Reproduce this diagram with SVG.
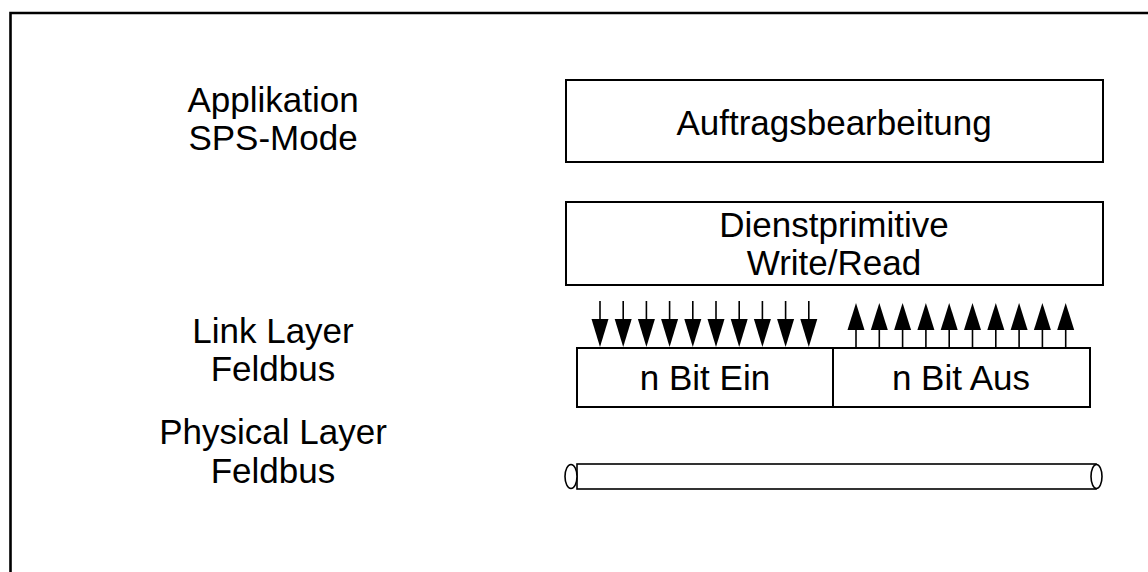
<svg xmlns="http://www.w3.org/2000/svg" width="1148" height="572" viewBox="0 0 1148 572">
<style>
text{font-family:"Liberation Sans",Arial,sans-serif;font-size:35px;fill:#000;text-anchor:middle}
.box{fill:#fff;stroke:#000;stroke-width:2}
.sh{stroke:#000;stroke-width:1.6;fill:none}
.hd{fill:#000}
</style>
<defs>
<g id="down"><line class="sh" x1="0" y1="301" x2="0" y2="320"/><polygon class="hd" points="-8.5,319 8.5,319 0,347"/></g>
<g id="up"><line class="sh" x1="0" y1="328" x2="0" y2="348"/><polygon class="hd" points="-8.5,330 8.5,330 0,303"/></g>
</defs>
<rect width="1148" height="572" fill="#fff"/>
<g id="frame"><path d="M10.5,572 V13 H1148" fill="none" stroke="#000" stroke-width="2.6"/></g>
<g id="labels">
<text x="273" y="112">Applikation</text>
<text x="273" y="150">SPS-Mode</text>
<text x="273" y="343">Link Layer</text>
<text x="273" y="381">Feldbus</text>
<text x="273" y="444">Physical Layer</text>
<text x="273" y="483">Feldbus</text>
</g>
<g id="auftrag"><rect class="box" x="566" y="80" width="537" height="82"/><text x="834" y="135">Auftragsbearbeitung</text></g>
<g id="dienst"><rect class="box" x="566" y="202" width="537" height="83"/><text x="834" y="237">Dienstprimitive</text><text x="834" y="275">Write/Read</text></g>
<g id="bitein"><rect class="box" x="577" y="348" width="256" height="59"/><text x="705" y="390">n Bit Ein</text></g>
<g id="bitaus"><rect class="box" x="833" y="348" width="257" height="59"/><text x="961" y="390">n Bit Aus</text></g>
<g id="cable">
<rect x="577" y="464" width="519" height="25" fill="#fff" stroke="#000" stroke-width="1.6"/>
<ellipse cx="571" cy="476.5" rx="6" ry="12" fill="#fff" stroke="#000" stroke-width="1.6"/>
<ellipse cx="1096.5" cy="476.5" rx="5.5" ry="12" fill="#fff" stroke="#000" stroke-width="1.6"/>
</g>
<g id="connectors">
<use href="#down" x="600"/><use href="#down" x="623.2"/><use href="#down" x="646.4"/><use href="#down" x="669.6"/><use href="#down" x="692.8"/><use href="#down" x="716"/><use href="#down" x="739.2"/><use href="#down" x="762.4"/><use href="#down" x="785.6"/><use href="#down" x="808.8"/>
<use href="#up" x="856"/><use href="#up" x="879.3"/><use href="#up" x="902.6"/><use href="#up" x="925.9"/><use href="#up" x="949.2"/><use href="#up" x="972.5"/><use href="#up" x="995.8"/><use href="#up" x="1019.1"/><use href="#up" x="1042.4"/><use href="#up" x="1065.7"/>
</g>
</svg>
